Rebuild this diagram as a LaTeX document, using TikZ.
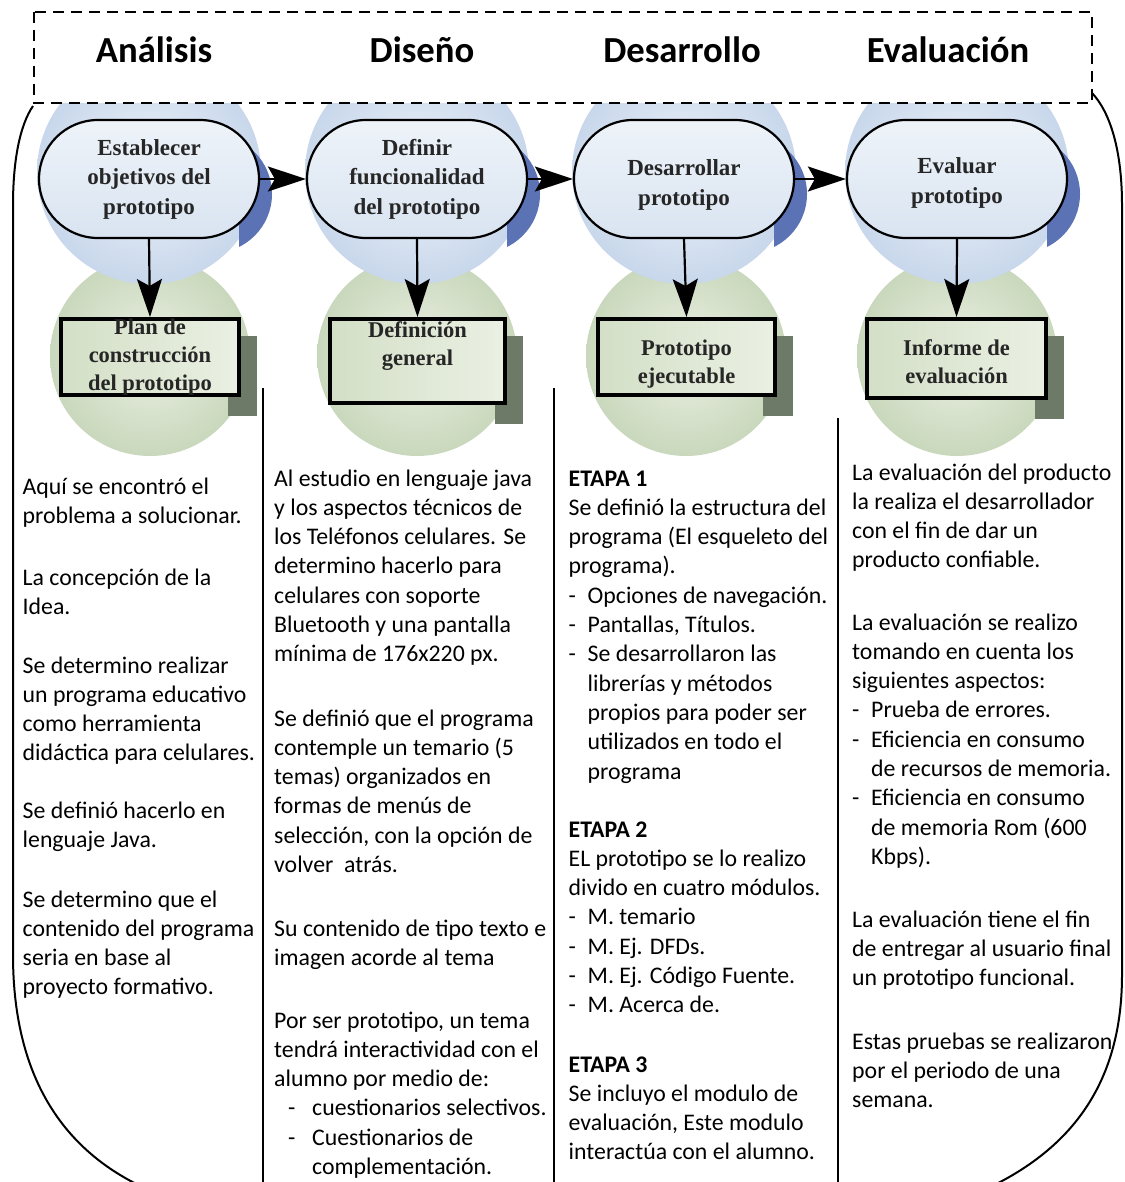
\documentclass[tikz,border=0pt]{standalone}
\usepackage{fontspec}
\newfontfamily\calib{Carlito}
\newfontfamily\serifb{Liberation Serif}
\usetikzlibrary{arrows.meta,shapes.misc}

\definecolor{blueA}{HTML}{EEF3FA}
\definecolor{blueB}{HTML}{C8D7EB}
\definecolor{blueDark}{HTML}{5B72B5}
\definecolor{greenA}{HTML}{EBF0E4}
\definecolor{greenB}{HTML}{C9D8BC}
\definecolor{shadowG}{HTML}{6C7A67}
\definecolor{stTop}{HTML}{EEF3F9}
\definecolor{stBot}{HTML}{D9E4F1}
\definecolor{bxL}{HTML}{D3DFC6}
\definecolor{bxR}{HTML}{EAF0E3}

% bullet helpers for the description columns
\newcommand\dashA[1]{\makebox[19pt][l]{-}#1}
\newcommand\contA[1]{\hspace*{19pt}#1}
\newcommand\dashB[1]{\hspace*{14pt}\makebox[24pt][l]{-}#1}
\newcommand\contB[1]{\hspace*{38pt}#1}

% one paragraph: name, x, first baseline y, list of lines
\newcommand\para[4]{%
  \foreach \lineText [count=\k from 0] in {#4} {
    \node[body] (#1-\k) at (#2, #3+\k*29.3) {\lineText};
  }}

\tikzset{
  stage/.style={rounded rectangle, draw=black, line width=2.2pt,
    minimum width=220pt, minimum height=118pt, inner sep=0pt,
    top color=stTop, bottom color=stBot},
  stagetext/.style={align=center, inner sep=0pt, text=black!85,
    font=\serifb\bfseries\fontsize{23}{29.5}\selectfont},
  productbox/.style={rectangle, draw=black, line width=4pt, inner sep=0pt,
    left color=bxL, right color=bxR},
  boxtext/.style={align=center, inner sep=0pt, text=black!85,
    font=\serifb\bfseries\fontsize{22.5}{28}\selectfont},
  shadowbox/.style={fill=shadowG},
  flow/.style={-{Stealth[length=38pt,width=25pt,inset=7pt]}, line width=2.2pt},
  heading/.style={font=\calib\bfseries\fontsize{36.7}{44}\selectfont,
    anchor=base, inner sep=0pt},
  body/.style={font=\calib\fontsize{23.8}{29.3}\selectfont,
    anchor=base west, inner sep=0pt},
  outline/.style={line width=2pt},
  divider/.style={line width=2pt},
  phasebar/.style={dashed, dash pattern=on 11pt off 7pt, line width=2.3pt,
    fill=white}
}

\begin{document}
\begin{tikzpicture}[x=1pt,y=-1pt]
\useasboundingbox (0,0) rectangle (1124,1182);
\clip (0,0) rectangle (1124,1182);

% soft green discs behind the products
\foreach \cx in {150,417,686,957}
  \shade[inner color=greenA, outer color=greenB] (\cx,356) circle (100pt);

% soft blue discs behind the activities
\foreach \cx in {149,417,684,957}
  \shade[inner color=blueA, outer color=blueB] (\cx,172) circle (112pt);

% dark blue shadow tips at the right end of each activity
\foreach \cx in {149,417,684,957} {
  \begin{scope}
    \clip (\cx+90,100) rectangle (\cx+150,280);
    \fill[blueDark] (\cx+64,194) circle (59pt);
  \end{scope}
}

% activities
\node[stage] (st1) at (149,179) {};
\node[stage] (st2) at (417,179) {};
\node[stage] (st3) at (684,179) {};
\node[stage] (st4) at (957,179) {};
\node[stagetext] (st1t) at (149,179) {Establecer\\objetivos del\\prototipo};
\node[stagetext] (st2t) at (417,179) {Definir\\funcionalidad\\del prototipo};
\node[stagetext] (st3t) at (684,185) {Desarrollar\\prototipo};
\node[stagetext] (st4t) at (957,183) {Evaluar\\prototipo};

% product shadows (visible along the right and bottom edges)
\fill[shadowbox] (228,336) rectangle (257,416);
\fill[shadowbox] (495,336) rectangle (523,424);
\fill[shadowbox] (763,336) rectangle (793,416);
\fill[shadowbox] (1035,336) rectangle (1064,419);

% products
\node[productbox, minimum width=178pt, minimum height=76pt] (b1) at (150,357) {};
\node[productbox, minimum width=175pt, minimum height=84pt] (b2) at (417.5,361) {};
\node[productbox, minimum width=177pt, minimum height=76pt] (b3) at (686.5,357) {};
\node[productbox, minimum width=179pt, minimum height=79pt] (b4) at (956.5,358.5) {};

\node[boxtext] (b1t) at (150,357) {Plan de\\construcción\\del prototipo};
\node[boxtext] (b2t) at (417.5,346) {Definición\\general};
\node[boxtext] (b3t) at (686.5,364) {Prototipo\\ejecutable};
\node[boxtext] (b4t) at (956.5,362) {Informe de\\evaluación};

% flow between activities and down to products
\draw[flow] (st1.east) -- (st2.west);
\draw[flow] (st2.east) -- (st3.west);
\draw[flow] (st3.east) -- (st4.west);
\draw[flow] (st1.south) -- (b1.north);
\draw[flow] (st2.south) -- (b2.north);
\draw[flow] (st3.south) -- (b3.north);
\draw[flow] (st4.south) -- (b4.north);

% phase titles
\draw[phasebar] (34,12) rectangle (1092,103);
\node[heading] (hA) at (154,63) {Análisis};
\node[heading] (hB) at (422,63) {Diseño};
\node[heading] (hC) at (682,63) {Desarrollo};
\node[heading] (hD) at (948,63) {Evaluación};

% enclosing outline
\draw[outline] (33,106) .. controls (20,125) and (13,160) .. (13,205)
  -- (13,955) .. controls (13,1085) and (70,1165) .. (175,1200);
\draw[outline] (1092,93) .. controls (1110,112) and (1122,150) .. (1122,205)
  -- (1122,975) .. controls (1122,1090) and (1065,1160) .. (960,1200);

% column separators
\coordinate (d1t) at (263,388); \coordinate (d1b) at (263,1182);
\coordinate (d2t) at (554,388); \coordinate (d2b) at (554,1182);
\coordinate (d3t) at (838,418); \coordinate (d3b) at (838,1182);
\draw[divider] (d1t) -- (d1b);
\draw[divider] (d2t) -- (d2b);
\draw[divider] (d3t) -- (d3b);

% column 1: analysis
\para{a1}{22.5}{494}{{Aquí se encontró el},{problema a solucionar.}}
\para{a2}{22.5}{585}{{La concepción de la},{Idea.}}
\para{a3}{22.5}{673}{{Se determino realizar},{un programa educativo},{como herramienta},{didáctica para celulares.}}
\para{a4}{22.5}{818}{{Se definió hacerlo en},{lenguaje Java.}}
\para{a5}{22.5}{907}{{Se determino que el},{contenido del programa},{seria en base al},{proyecto formativo.}}

% column 2: design
\para{b1p}{274}{486}{{Al estudio en lenguaje java},{y los aspectos técnicos de},{los Teléfonos celulares. Se},{determino hacerlo para},{celulares con soporte},{Bluetooth y una pantalla},{mínima de 176x220 px.}}
\para{b2p}{274}{726}{{Se definió que el programa},{contemple un temario (5},{temas) organizados en},{formas de menús de},{selección, con la opción de},{volver~ atrás.}}
\para{b3p}{274}{936}{{Su contenido de tipo texto e},{imagen acorde al tema}}
\para{b4p}{274}{1028}{{Por ser prototipo, un tema},{tendrá interactividad con el},{alumno por medio de:},{\dashB{cuestionarios selectivos.}},{\dashB{Cuestionarios de}},{\contB{complementación.}}}

% column 3: development
\para{c1}{568.5}{486}{{\textbf{ETAPA 1}},{Se definió la estructura del},{programa (El esqueleto del},{programa).},{\dashA{Opciones de navegación.}},{\dashA{Pantallas, Títulos.}},{\dashA{Se desarrollaron las}},{\contA{librerías y métodos}},{\contA{propios para poder ser}},{\contA{utilizados en todo el}},{\contA{programa}}}
\para{c2}{568.5}{837}{{\textbf{ETAPA 2}},{EL prototipo se lo realizo},{divido en cuatro módulos.},{\dashA{M. temario}},{\dashA{M. Ej. DFDs.}},{\dashA{M. Ej. Código Fuente.}},{\dashA{M. Acerca de.}}}
\para{c3}{568.5}{1072}{{\textbf{ETAPA 3}},{Se incluyo el modulo de},{evaluación, Este modulo},{interactúa con el alumno.}}

% column 4: evaluation
\para{e1}{852}{480}{{La evaluación del producto},{la realiza el desarrollador},{con el fin de dar un},{producto confiable.}}
\para{e2}{852}{630}{{La evaluación se realizo},{tomando en cuenta los},{siguientes aspectos:},{\dashA{Prueba de errores.}},{\dashA{Eficiencia en consumo}},{\contA{de recursos de memoria.}},{\dashA{Eficiencia en consumo}},{\contA{de memoria Rom (600}},{\contA{Kbps).}}}
\para{e3}{852}{927}{{La evaluación tiene el fin},{de entregar al usuario final},{un prototipo funcional.}}
\para{e4}{852}{1049}{{Estas pruebas se realizaron},{por el periodo de una},{semana.}}
\end{tikzpicture}
\end{document}
